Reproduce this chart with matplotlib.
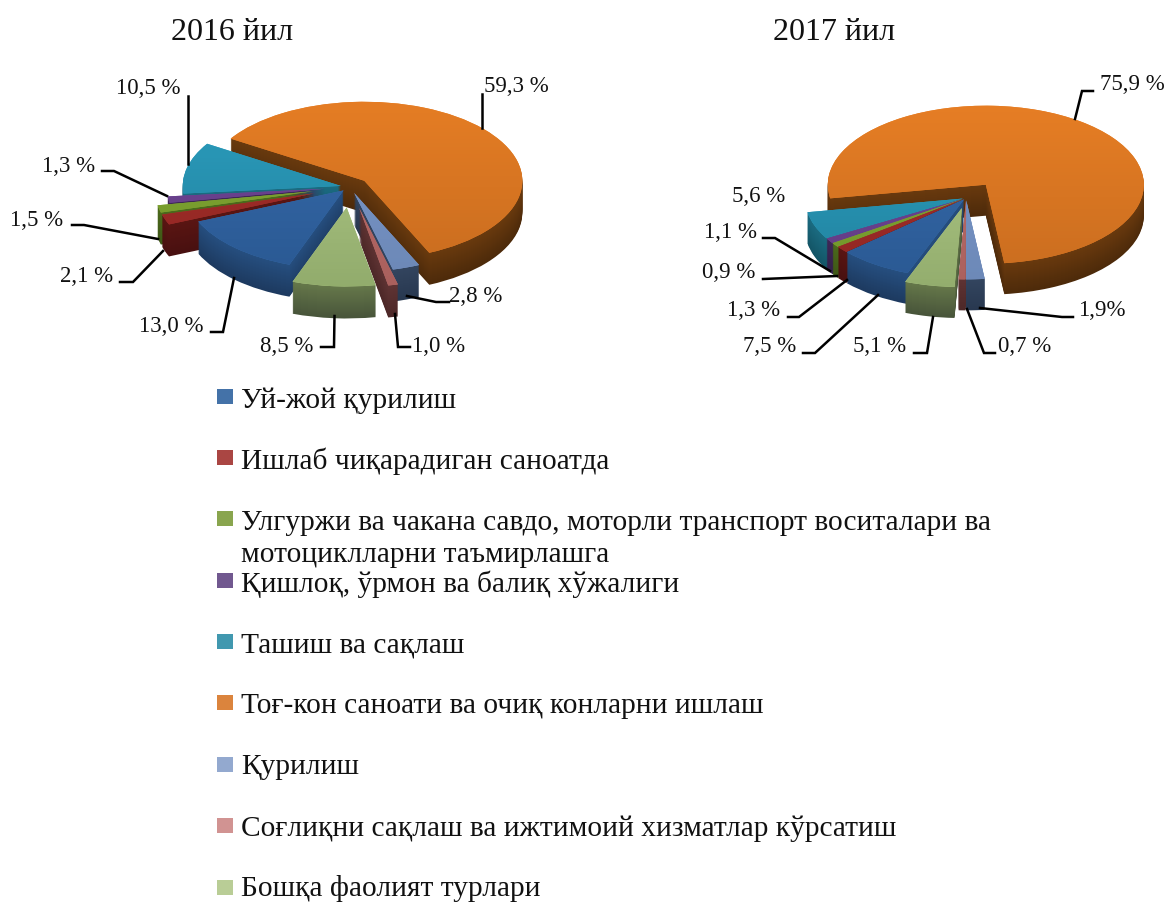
import matplotlib
matplotlib.use("Agg")
import matplotlib.pyplot as plt
import numpy as np
from matplotlib.colors import LinearSegmentedColormap, to_rgb
from matplotlib.patches import Rectangle

plt.rcParams["font.family"] = ["Liberation Serif", "DejaVu Serif"]

W, H = 1165, 902

categories = [
    "Уй-жой қурилиш",
    "Ишлаб чиқарадиган саноатда",
    "Улгуржи ва чакана савдо, моторли транспорт воситалари ва\nмотоциклларни таъмирлашга",
    "Қишлоқ, ўрмон ва балиқ хўжалиги",
    "Ташиш ва сақлаш",
    "Тоғ-кон саноати ва очиқ конларни ишлаш",
    "Қурилиш",
    "Соғлиқни сақлаш ва ижтимоий хизматлар кўрсатиш",
    "Бошқа фаолият турлари",
]
values_2016 = [13.0, 2.1, 1.5, 1.3, 10.5, 59.3, 2.8, 1.0, 8.5]
values_2017 = [7.5, 1.3, 0.9, 1.1, 5.6, 75.9, 1.9, 0.7, 5.1]
labels_2016 = ["13,0 %", "2,1 %", "1,5 %", "1,3 %", "10,5 %", "59,3 %", "2,8 %", "1,0 %", "8,5 %"]
labels_2017 = ["7,5 %", "1,3 %", "0,9 %", "1,1 %", "5,6 %", "75,9 %", "1,9%", "0,7 %", "5,1 %"]

legend_colors = ["#4472a8", "#aa4643", "#89a54e", "#71588f", "#4198af",
                 "#db843d", "#93a9cf", "#d19392", "#b9cd96"]
top_light = ["#3a6fb0", "#a8302c", "#86ad35", "#75489b", "#2ea3c4",
             "#ea8025", "#7f9ccf", "#c0706d", "#b6d08d"]
top_dark = ["#28568f", "#8e2522", "#6f9229", "#5e3a80", "#1f7d99",
            "#c46a1f", "#6a86b4", "#a85f5c", "#8fa96a"]
side_light = ["#264f80", "#5a1512", "#4c6a1c", "#3f2757", "#1b6c82",
              "#6a3a0e", "#33455f", "#5f3333", "#66784a"]
side_dark = ["#1d3a60", "#481010", "#3e5716", "#33204a", "#135566",
             "#4d2a0a", "#283850", "#4d2828", "#48553a"]

# label text centres and leader lines, in picture pixels
label_pos_2016 = [(171, 326), (87, 277), (37, 221), (69, 166), (148, 89),
                  (516, 87), (476, 296), (439, 346), (287, 346)]
leaders_2016 = [
    [(211, 332), (223, 332), (234, 278)],
    [(120, 282), (133, 282), (163, 251)],
    [(72, 225), (84, 225), (158, 239)],
    [(102, 171), (114, 171), (167, 196)],
    [(187.7, 96), (187.7, 164)],
    [(481.7, 94), (481.7, 128)],
    [(449, 302), (436, 302), (407, 296)],
    [(410, 347), (398, 347), (395, 314)],
    [(321, 347), (334, 347), (334.5, 316)],
]
label_pos_2017 = [(770, 347), (754, 311), (729, 273), (730, 232), (759, 196),
                  (1132, 85), (1102, 310), (1025, 346), (880, 347)]
leaders_2017 = [
    [(803, 353), (815, 353), (878, 295)],
    [(788, 317), (799, 317), (847, 280)],
    [(763, 279), (837, 276)],
    [(763, 238), (775, 238), (830, 271)],
    [],
    [(1093, 91), (1082, 91), (1075, 119)],
    [(1073, 317), (1062, 317), (980, 308)],
    [(995, 353), (984, 353), (967, 309)],
    [(914, 353), (927, 353), (933, 317)],
]

explode_2016 = [0.06, 0.24, 0.24, 0.16, 0.06, 0.12, 0.08, 0.27, 0.26]
explode_2017 = [0.02, 0.02, 0.02, 0.02, 0.02, 0.21, 0.03, 0.03, 0.13]

legend_y = [396, 457, 518, 580, 641, 702, 764, 825, 887]
text_y = [401, 461, 539, 584, 645, 706, 767, 829, 888]


def draw_pie(fig, values, explode, cx, cy, radius, squash, depth, start):
    # axes spans 4 radii wide, squashed in y to fake the tilt
    ax_w, ax_h = 4 * radius, 4 * radius * squash
    ax = fig.add_axes([(cx - ax_w / 2) / W, 1 - (cy + ax_h / 2) / H, ax_w / W, ax_h / H])
    step = 1 / (radius * squash)

    # back to front order from each slice's bisector
    cum = np.cumsum([0] + values)
    bisect = start - (cum[:-1] + cum[1:]) / 2 * 3.6
    order = np.argsort(np.argsort(-np.sin(np.radians(bisect))))

    for k in range(depth, -1, -1):
        frac = 1 - k / max(depth, 1)
        if k == 0:
            colors = top_light
        else:
            colors = [tuple(a + (b - a) * frac for a, b in zip(to_rgb(d), to_rgb(l)))
                      for d, l in zip(side_dark, side_light)]
        wedges, _ = ax.pie(values, explode=explode, colors=colors, startangle=start,
                           counterclock=False, center=(0, -k * step), radius=1,
                           normalize=True, wedgeprops={"linewidth": 0})
        for i, w in enumerate(wedges):
            w.set_zorder(order[i] * 1000 + depth - k + 1)
            if k == 0:
                cmap = LinearSegmentedColormap.from_list("g", [top_light[i], top_dark[i]])
                grad = np.linspace(0, 1, 64).reshape(-1, 1)
                im = ax.imshow(grad, cmap=cmap, extent=(-2, 2, -1.5, 1.5), aspect="auto",
                               origin="upper", zorder=order[i] * 1000 + depth + 2)
                im.set_clip_path(w)
    ax.set_xlim(-2, 2)
    ax.set_ylim(-2, 2)
    ax.set_aspect("auto")
    ax.axis("off")
    return ax


fig = plt.figure(figsize=(W / 100, H / 100), dpi=100)

draw_pie(fig, values_2016, explode_2016, 350, 187, 158, 0.5, 32, -110)
draw_pie(fig, values_2017, explode_2017, 966, 198, 158, 0.5, 31, -111)

# overlay in picture pixels for text, leaders and the legend
over = fig.add_axes([0, 0, 1, 1], zorder=10)
over.set_xlim(0, W)
over.set_ylim(H, 0)
over.axis("off")

over.text(232, 33, "2016 йил", fontsize=23, ha="center", va="center", color="#111111")
over.text(834, 33, "2017 йил", fontsize=23, ha="center", va="center", color="#111111")

for labels, positions, leaders in [(labels_2016, label_pos_2016, leaders_2016),
                                   (labels_2017, label_pos_2017, leaders_2017)]:
    for lab, (x, y), pts in zip(labels, positions, leaders):
        over.text(x, y, lab, fontsize=16.5, ha="center", va="center", color="#111111")
        if pts:
            over.plot([p[0] for p in pts], [p[1] for p in pts], color="black", lw=1.8,
                      solid_joinstyle="miter")

for name, col, ys, yt in zip(categories, legend_colors, legend_y, text_y):
    over.add_patch(Rectangle((217, ys - 7.5), 16, 15, facecolor=col, edgecolor="none"))
    over.text(241, yt, name, fontsize=21.2, ha="left", va="center", color="#111111",
              linespacing=1.25)

fig.savefig("out.png", dpi=100)
